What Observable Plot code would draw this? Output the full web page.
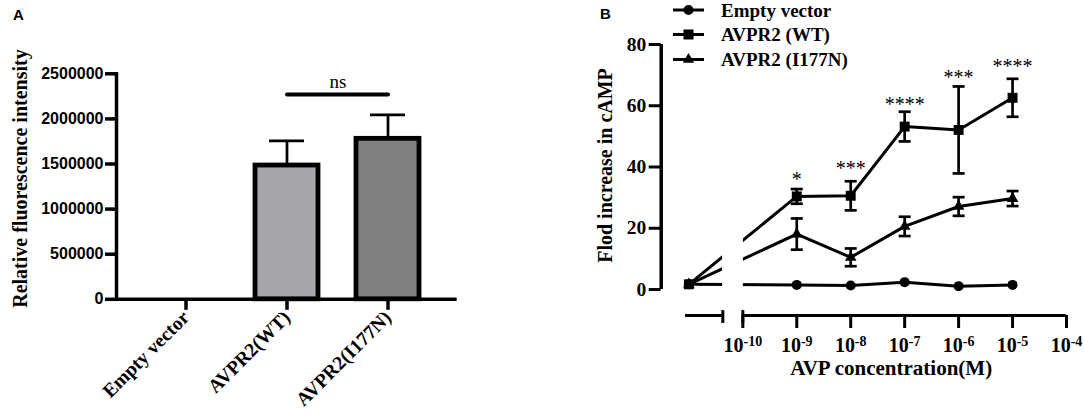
<!DOCTYPE html>
<html>
<head>
<meta charset="utf-8">
<script src="https://cdn.jsdelivr.net/npm/d3@7"></script>
<script src="https://cdn.jsdelivr.net/npm/@observablehq/plot@0.6"></script>
<style>
html, body { margin: 0; padding: 0; background: #fff; }
#wrap { position: relative; width: 1084px; height: 417px; overflow: hidden; background: #fff; }
#wrap > svg { position: absolute; top: 0; }
</style>
</head>
<body>
<div id="wrap"></div>
<script>
// ---------- Panel A data ----------
const groupsA = ["Empty vector", "AVPR2(WT)", "AVPR2(I177N)"];
const fluorescenceMean = [0, 1483000, 1779000];
const fluorescenceSem = [0, 274000, 266000];
const fluorescenceTicks = [0, 500000, 1000000, 1500000, 2000000, 2500000];
const nsPair = ["AVPR2(WT)", "AVPR2(I177N)"];
const nsLevel = 2270000;

// ---------- Panel B data ----------
const seriesB = ["Empty vector", "AVPR2 (WT)", "AVPR2 (I177N)"];
// log10 of AVP concentration; -11 is the control point drawn left of the axis break
const concExponent = [-11, -9, -8, -7, -6, -5];
const campEmpty = [1.7, 1.5, 1.3, 2.4, 1.1, 1.5];
const campWT = [1.7, 30.4, 30.6, 53.2, 52.1, 62.6];
const campWTErr = [0, 2.4, 4.75, 4.85, 14.2, 6.2];
const campI177N = [1.7, 18.1, 10.5, 20.6, 27.1, 29.7];
const campI177NErr = [0, 5.1, 2.9, 3.15, 3.05, 2.45];
const starLabels = ["*", "***", "****", "***", "****"];
const starExponent = [-9, -8, -7, -6, -5];
const starLevel = [36.6, 40.2, 61.2, 69.9, 73.5];
const xTicksB = [-10, -9, -8, -7, -6, -5, -4];
const yTicksB = [0, 20, 40, 60, 80];

// ---------- styles ----------
const serif = "'Liberation Serif', 'Times New Roman', serif";
const sans = "'Liberation Sans', Arial, sans-serif";
const barFill = {"AVPR2(WT)": "#a6a5aa", "AVPR2(I177N)": "#808080"};
const symbolsB = ["circle", "square", "triangle"];
const symbolR = [5, 5.6, 4.3];

const wrap = document.getElementById("wrap");

// ---------- Panel A ----------
const dataA = groupsA.map((g, i) => ({group: g, mean: fluorescenceMean[i], sem: fluorescenceSem[i]}));
const barsA = dataA.filter(d => d.mean > 0);

const plotA = Plot.plot({
  width: 540, height: 417,
  marginTop: 73.3, marginBottom: 118.2, marginLeft: 116, marginRight: 83.3,
  style: {background: "transparent", color: "black", overflow: "visible"},
  x: {type: "band", domain: groupsA, paddingInner: 0.376, paddingOuter: 0.363, label: null},
  y: {domain: [0, 2500000], label: null},
  marks: [
    Plot.ruleX(barsA, {x: "group", y1: "mean", y2: d => d.mean + d.sem, stroke: "black", strokeWidth: 2.7}),
    Plot.tickY(barsA, {x: "group", y: d => d.mean + d.sem, insetLeft: 14, insetRight: 14, stroke: "black", strokeWidth: 2.7}),
    Plot.barY(barsA, {x: "group", y: "mean", fill: d => barFill[d.group], stroke: "black", strokeWidth: 4.8}),
    Plot.line(nsPair.map(g => ({group: g, y: nsLevel})), {x: "group", y: "y", stroke: "black", strokeWidth: 4, strokeLinecap: "round"}),
    Plot.text([{group: nsPair[0], y: nsLevel, t: "ns"}], {x: "group", y: "y", text: "t", dx: 51, dy: -7, lineAnchor: "bottom", fontSize: 19, fontFamily: serif, fill: "black"}),
    Plot.ruleY([0], {stroke: "black", strokeWidth: 3.5}),
    Plot.frame({anchor: "left", stroke: "black", strokeWidth: 3.5}),
    Plot.axisY({ticks: fluorescenceTicks, tickFormat: d3.format("d"), tickSize: 11, tickPadding: 2, strokeWidth: 3.5, fontSize: 16, fontWeight: "bold", fontFamily: sans, label: null}),
    Plot.axisX({tickRotate: -45, tickSize: 11, tickPadding: 4, strokeWidth: 3.5, fontSize: 19.5, fontWeight: "bold", fontFamily: serif, label: null}),
    Plot.text(["Relative fluorescence intensity"], {frameAnchor: "left", textAnchor: "middle", lineAnchor: "middle", dx: -96, dy: -8, rotate: -90, fontSize: 20, fontWeight: "bold", fontFamily: serif, fill: "black"})
  ]
});
plotA.style.left = "0px";
wrap.appendChild(plotA);

// ---------- Panel B ----------
const valsB = [campEmpty, campWT, campI177N];
const errsB = [null, campWTErr, campI177NErr];
const pointsB = seriesB.flatMap((s, k) => concExponent.map((x, i) => ({
  series: s, k, x, y: valsB[k][i], err: errsB[k] ? errsB[k][i] : 0
})));
const errB = pointsB.filter(d => d.err > 0);
const starsB = starLabels.map((t, i) => ({t, x: starExponent[i], y: starLevel[i]}));

const xDomainB = [-11.513, -4];
const yDomainB = [-8.49, 80];
const axisSegments = [{from: -11.062, to: -10.371}, {from: -10, to: -4}];
const breakMarks = [-10.371, -10];
const gapB = {x1: -10.375, x2: -9.99, y1: -3, y2: 80};
const xLabelAt = -7.25;

const capSymbol = {
  draw(ctx, size) { const w = Math.sqrt(size / Math.PI); ctx.moveTo(-w, 0); ctx.lineTo(w, 0); }
};

const plotB = Plot.plot({
  width: 544, height: 417,
  marginTop: 44, marginBottom: 102, marginLeft: 120.7, marginRight: 18,
  style: {background: "transparent", color: "black", overflow: "visible"},
  x: {type: "linear", domain: xDomainB, label: null},
  y: {domain: yDomainB, label: null},
  marks: [
    Plot.line(pointsB, {x: "x", y: "y", z: "series", stroke: "black", strokeWidth: 3}),
    Plot.rect([gapB], {x1: "x1", x2: "x2", y1: "y1", y2: "y2", fill: "white"}),
    Plot.ruleX(errB, {x: "x", y1: d => d.y - d.err, y2: d => d.y + d.err, stroke: "black", strokeWidth: 2.7}),
    Plot.dot(errB, {x: "x", y: d => d.y + d.err, symbol: capSymbol, r: 6, fill: "none", stroke: "black", strokeWidth: 2.7}),
    Plot.dot(errB, {x: "x", y: d => d.y - d.err, symbol: capSymbol, r: 6, fill: "none", stroke: "black", strokeWidth: 2.7}),
    ...seriesB.map((s, k) => Plot.dot(pointsB.filter(d => d.series === s), {x: "x", y: "y", symbol: symbolsB[k], r: symbolR[k], fill: "black", stroke: "none"})),
    Plot.text(starsB, {x: "x", y: "y", text: "t", dy: 9, lineAnchor: "bottom", fontSize: 20, fontFamily: serif, fill: "black"}),
    Plot.ruleX([xDomainB[0]], {y1: 0, y2: 80, stroke: "black", strokeWidth: 3.5}),
    Plot.axisY({ticks: yTicksB, tickSize: 12, tickPadding: 3, strokeWidth: 3, fontSize: 19.5, fontWeight: "bold", fontFamily: serif, label: null}),
    Plot.axisX({ticks: xTicksB, tickFormat: d => "10" + d, tickSize: 13, tickPadding: 9, strokeWidth: 3, fontSize: 20, fontWeight: "bold", fontFamily: serif, label: null}),
    Plot.ruleY(axisSegments, {y: yDomainB[0], x1: "from", x2: "to", stroke: "black", strokeWidth: 3}),
    Plot.ruleX(breakMarks, {x: d => d, y1: yDomainB[0] - 2.6, y2: yDomainB[0] + 1.6, stroke: "black", strokeWidth: 3}),
    Plot.text(["AVP concentration(M)"], {x: () => xLabelAt, frameAnchor: "bottom", dy: 59, lineAnchor: "bottom", fontSize: 21, fontWeight: "bold", fontFamily: serif, fill: "black"}),
    Plot.text(["Flod increase in cAMP"], {frameAnchor: "left", textAnchor: "middle", lineAnchor: "middle", dx: -55.7, dy: -14.5, rotate: -90, fontSize: 20, fontWeight: "bold", fontFamily: serif, fill: "black"})
  ]
});
plotB.style.left = "540px";
wrap.appendChild(plotB);

// superscript exponents on the concentration axis
d3.select(plotB).selectAll("text").each(function () {
  const s = this.textContent;
  if (/^10-\d+$/.test(s)) {
    const exp = s.slice(2);
    const sel = d3.select(this);
    sel.text(null);
    sel.append("tspan").text("10");
    sel.append("tspan").attr("dy", -6).attr("font-size", 14).text(exp);
  }
});

// ---------- overlay: panel letters and legend ----------
const ov = d3.create("svg").attr("width", 1084).attr("height", 417)
  .style("left", "0px").style("pointer-events", "none");
ov.append("text").attr("x", 13).attr("y", 20).attr("font-family", sans).attr("font-weight", "bold").attr("font-size", 15).text("A");
ov.append("text").attr("x", 600).attr("y", 18.5).attr("font-family", sans).attr("font-weight", "bold").attr("font-size", 15).text("B");

const legendY = [10, 34.5, 59.5];
const legendSymbols = [d3.symbolCircle, d3.symbolSquare, d3.symbolTriangle];
const legendSize = [78.5, 100, 55];
const lg = ov.append("g");
seriesB.forEach((s, k) => {
  const g = lg.append("g").attr("transform", `translate(0,${legendY[k]})`);
  g.append("line").attr("x1", 673).attr("x2", 704).attr("y1", 0).attr("y2", 0).attr("stroke", "black").attr("stroke-width", 3);
  g.append("path").attr("transform", "translate(688.5,0)").attr("d", d3.symbol(legendSymbols[k], legendSize[k])()).attr("fill", "black");
  g.append("text").attr("x", 721).attr("y", 6.5).attr("font-family", serif).attr("font-weight", "bold").attr("font-size", 19).text(s);
});
wrap.appendChild(ov.node());
</script>
</body>
</html>
